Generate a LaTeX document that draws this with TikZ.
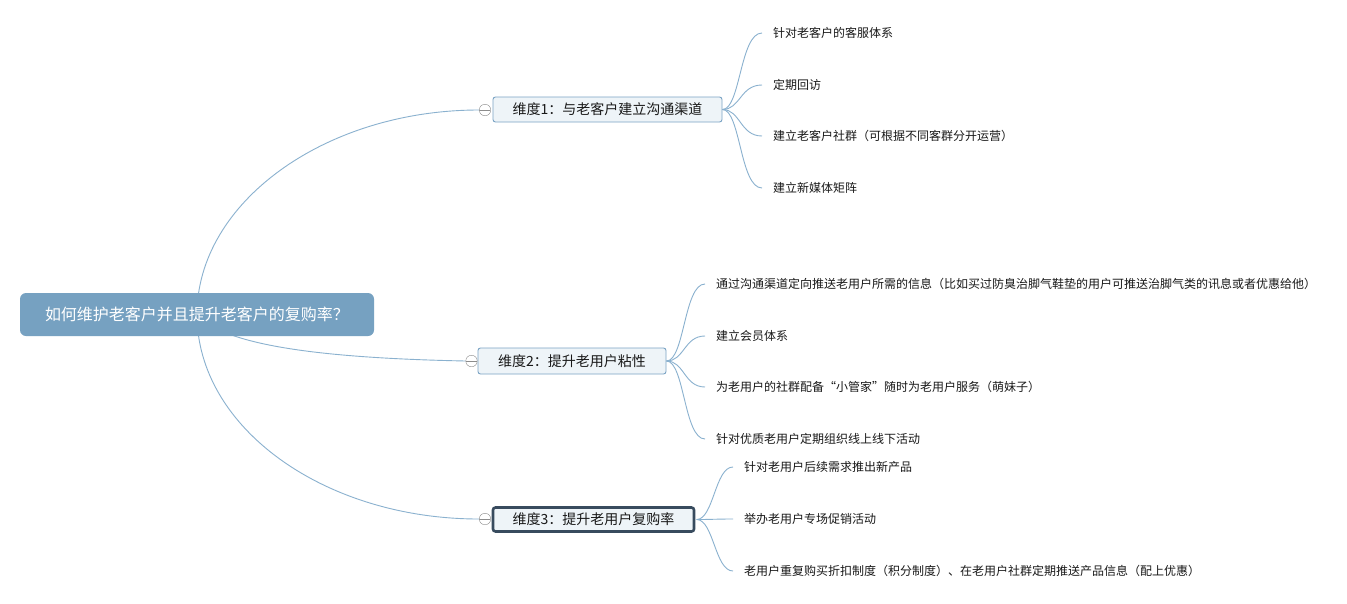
\documentclass[tikz,border=0pt]{standalone}
\usepackage{fontspec}
\setmainfont{Noto Sans CJK SC}
\usetikzlibrary{backgrounds}
\definecolor{rootblue}{HTML}{76A1C1}
\definecolor{linkblue}{HTML}{8AB1CF}
\definecolor{boxfill}{HTML}{EEF4F8}
\definecolor{boxline}{HTML}{7AA3C4}
\definecolor{darkline}{HTML}{384B5E}

\begin{document}
\begin{tikzpicture}[x=1pt, y=-1pt,
    roottopic/.style={fill=rootblue, rounded corners=6pt, text=white, font=\fontsize{16}{18}\selectfont, minimum width=354pt, minimum height=43pt, inner sep=0pt},
    subtopic/.style={draw=boxline, line width=0.9pt, fill=boxfill, rounded corners=2.5pt, font=\fontsize{14}{16}\selectfont, text=black!90, inner sep=0pt},
    leaf/.style={anchor=west, inner xsep=11pt, inner ysep=0pt, font=\fontsize{12}{14}\selectfont, text=black!90},
    toggle/.style={circle, draw=gray!90, fill=white, minimum size=11.5pt, inner sep=0pt, path picture={\draw[gray!90] (path picture bounding box.west) -- (path picture bounding box.east);}},
    link/.style={draw=linkblue, line width=0.9pt}]
      \useasboundingbox (0, 0) rectangle (1347, 603);

      \node[roottopic] (root) at (197, 314.5) {如何维护老客户并且提升老客户的复购率？};

      \node[subtopic, minimum width=229pt, minimum height=25pt] (dim1) at (607.5, 109.5) {维度1：与老客户建立沟通渠道};
      \node[subtopic, minimum width=188pt, minimum height=26pt] (dim2) at (572, 361) {维度2：提升老用户粘性};
      \node[subtopic, draw=darkline, line width=2.6pt, minimum width=201pt, minimum height=24pt] (dim3) at (593.5, 519.5) {维度3：提升老用户复购率};

      \node[toggle] (t1) at (485, 110) {};
      \node[toggle] (t2) at (471.5, 361) {};
      \node[toggle] (t3) at (485, 519) {};

      \node[leaf] (a1) at (762, 33) {针对老客户的客服体系};
      \node[leaf] (a2) at (762, 85) {定期回访};
      \node[leaf] (a3) at (762, 136) {建立老客户社群（可根据不同客群分开运营）};
      \node[leaf] (a4) at (762, 188) {建立新媒体矩阵};

      \node[leaf] (b1) at (705, 284) {通过沟通渠道定向推送老用户所需的信息（比如买过防臭治脚气鞋垫的用户可推送治脚气类的讯息或者优惠给他）};
      \node[leaf] (b2) at (705, 336) {建立会员体系};
      \node[leaf] (b3) at (705, 387) {为老用户的社群配备“小管家”随时为老用户服务（萌妹子）};
      \node[leaf] (b4) at (705, 439) {针对优质老用户定期组织线上线下活动};

      \node[leaf] (c1) at (733, 467) {针对老用户后续需求推出新产品};
      \node[leaf] (c2) at (733, 519) {举办老用户专场促销活动};
      \node[leaf] (c3) at (733, 571) {老用户重复购买折扣制度（积分制度）、在老用户社群定期推送产品信息（配上优惠）};

      \begin{scope}[on background layer]
        \fill[white] (0, 0) rectangle (1347, 603);
        \draw[link] (root.center) .. controls +(0, -112) and +(-154, 0) .. (t1.west);
        \draw[link] (root.center) .. controls +(26, 30) and +(-150, -3) .. (t2.west);
        \draw[link] (root.center) .. controls +(0, 113) and +(-155, 0) .. (t3.west);
      \end{scope}

      \foreach \leafname in {a1, a2, a3, a4}
        \draw[link] (dim1.east) .. controls +(18, 0) and +(-22, 0) .. (\leafname.west);
      \foreach \leafname in {b1, b2, b3, b4}
        \draw[link] (dim2.east) .. controls +(18, 0) and +(-21, 0) .. (\leafname.west);
      \foreach \leafname in {c1, c2, c3}
        \draw[link] ([xshift=1.3pt]dim3.east) .. controls +(17, 0) and +(-18, 0) .. (\leafname.west);
    \end{tikzpicture}
\end{document}
